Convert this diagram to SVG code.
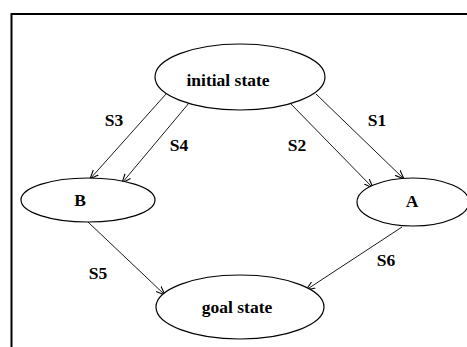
<svg xmlns="http://www.w3.org/2000/svg" width="467" height="347" viewBox="0 0 467 347">
<style>
.node ellipse{fill:#fff;stroke:#000;stroke-width:1.2}
text{font-family:"Liberation Serif","Times New Roman",serif;font-weight:bold;font-size:17.5px;fill:#000;text-anchor:middle}
.edge{stroke:#000;stroke-width:0.9;fill:none;marker-end:url(#arr)}
</style>
<defs>
<marker id="arr" viewBox="0 0 10 10" refX="10" refY="5" markerWidth="9" markerHeight="9" markerUnits="userSpaceOnUse" orient="auto">
<path d="M0,1 L10,5 L0,9" fill="none" stroke="#000" stroke-width="1.2"/>
</marker>
</defs>
<rect width="467" height="347" fill="#fff"/>
<path d="M11.5,347 V14 H467" fill="none" stroke="#000" stroke-width="2"/>
<g id="edges">
<line class="edge" x1="166" y1="94" x2="90" y2="179"/>
<line class="edge" x1="189" y1="103" x2="122" y2="183"/>
<line class="edge" x1="290" y1="103" x2="373" y2="188"/>
<line class="edge" x1="316" y1="94" x2="404" y2="179"/>
<line class="edge" x1="88" y1="222" x2="165" y2="295"/>
<line class="edge" x1="402" y1="227" x2="306" y2="290"/>
</g>
<g id="labels">
<text x="114" y="126">S3</text>
<text x="179" y="151">S4</text>
<text x="297" y="151">S2</text>
<text x="377" y="126">S1</text>
<text x="98" y="279">S5</text>
<text x="386" y="266">S6</text>
</g>
<g id="initial" class="node"><ellipse cx="240" cy="77" rx="85" ry="33"/><text x="228" y="86">initial state</text></g>
<g id="B" class="node"><ellipse cx="88" cy="200" rx="67" ry="22"/><text x="80" y="206">B</text></g>
<g id="A" class="node"><ellipse cx="413" cy="202" rx="56" ry="24"/><text x="412" y="207">A</text></g>
<g id="goal" class="node"><ellipse cx="240" cy="307" rx="84" ry="32"/><text x="237" y="313">goal state</text></g>
</svg>
